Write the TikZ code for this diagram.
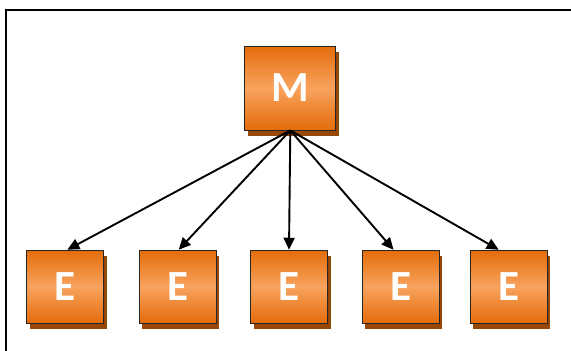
\documentclass[tikz,border=0pt]{standalone}
\usepackage{fontspec}
\setmainfont{Carlito}
\usetikzlibrary{arrows.meta,shadows,calc}
\definecolor{orTop}{HTML}{E36C0A}
\definecolor{orMid}{HTML}{F9A35E}
\definecolor{orShadow}{HTML}{984806}
\tikzset{
  box/.style={draw=black!85, line width=0.9pt, minimum width=77pt, minimum height=73pt,
    inner sep=0pt, top color=orTop, bottom color=orTop, middle color=orMid,
    text=white, font=\fontsize{43}{43}\selectfont\bfseries,
    drop shadow={shadow xshift=3pt, shadow yshift=-6pt, fill=orShadow, opacity=1}},
  link/.style={line width=1.9pt, -{Triangle[length=12pt,width=11pt]}}
}
\begin{document}
\begin{tikzpicture}[x=1pt,y=-1pt]
\useasboundingbox (0,0) rectangle (571,351);
\draw[line width=2pt] (6,351) -- (6,9.5) -- (571,9.5);
\node[box, minimum width=91pt, minimum height=84pt] (M) at (290.3,88) {M};
\node[box] (E1) at (65.3,286.7) {E};
\node[box] (E2) at (177.7,286.7) {E};
\node[box] (E3) at (289,286.7) {E};
\node[box] (E4) at (400.5,286.7) {E};
\node[box] (E5) at (508.7,286.7) {E};
\draw[link] (M.south) -- ($(E1.north)+(2,0)$);
\draw[link] (M.south) -- ($(E2.north)+(1,0)$);
\draw[link] (M.south) -- (E3.north);
\draw[link] (M.south) -- ($(E4.north)+(-7,0)$);
\draw[link] (M.south) -- ($(E5.north)+(-10,0)$);
\end{tikzpicture}
\end{document}
